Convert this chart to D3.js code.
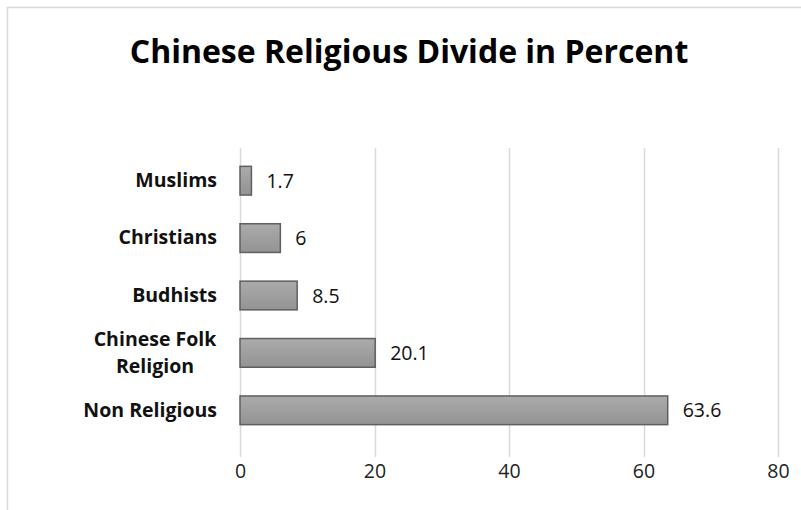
<!DOCTYPE html>
<html>
<head>
<meta charset="utf-8">
<script src="https://cdn.jsdelivr.net/npm/d3@7"></script>
<style>
  body { margin: 0; background: #fff; }
  svg { display: block; font-family: "Open Sans", sans-serif; }
</style>
</head>
<body>
<div id="chart"></div>
<script>
const categories = ['Non Religious', 'Chinese Folk Religion', 'Budhists', 'Christians', 'Muslims'];
const values = [63.6, 20.1, 8.5, 6, 1.7];
const xTicks = [0, 20, 40, 60, 80];
const title = 'Chinese Religious Divide in Percent';

const WIDTH = 801;
const HEIGHT = 510;
const FONT = '"Open Sans", sans-serif';
const LABEL_SIZE = 19.5;

function translate(x, y) {
  return `translate(${x}, ${y})`;
}

const data = categories.map((c, i) => ({name: c, value: values[i]}));

const svg = d3.select('#chart').append('svg')
  .attr('width', WIDTH)
  .attr('height', HEIGHT);

// chart frame, runs off the right and bottom edge
svg.append('rect')
  .attr('x', 7.5).attr('y', 7.5)
  .attr('width', 820).attr('height', 520)
  .attr('fill', '#fff')
  .attr('stroke', '#d9d9d9')
  .attr('stroke-width', 1.5);

const defs = svg.append('defs');
const grad = defs.append('linearGradient')
  .attr('id', 'barFill')
  .attr('x1', 0).attr('y1', 0).attr('x2', 0).attr('y2', 1);
grad.append('stop').attr('offset', '0%').attr('stop-color', '#ababab');
grad.append('stop').attr('offset', '100%').attr('stop-color', '#939393');

const x = d3.scaleLinear()
  .domain([0, 80])
  .range([240, 778]);

const y = d3.scaleBand()
  .domain(categories.slice().reverse())
  .range([152, 439])
  .paddingInner(0.5)
  .paddingOuter(0.25);

const gridTop = 148;
const gridBottom = 457;

// gridlines
svg.append('g')
  .selectAll('line')
  .data(xTicks)
  .join('line')
  .attr('x1', d => Math.round(x(d)) + 0.5)
  .attr('x2', d => Math.round(x(d)) + 0.5)
  .attr('y1', gridTop)
  .attr('y2', gridBottom)
  .attr('stroke', '#d9d9d9')
  .attr('stroke-width', 1.5);

// x axis labels
const xAxis = svg.append('g')
  .attr('transform', translate(0, gridBottom))
  .call(d3.axisBottom(x).tickValues(xTicks).tickSize(0).tickPadding(7));
xAxis.select('.domain').remove();
xAxis.selectAll('text')
  .attr('font-family', FONT)
  .attr('font-size', LABEL_SIZE)
  .attr('fill', '#222');

// bars
svg.append('g')
  .selectAll('rect')
  .data(data)
  .join('rect')
  .attr('x', x(0))
  .attr('y', d => y(d.name))
  .attr('width', d => x(d.value) - x(0))
  .attr('height', y.bandwidth())
  .attr('fill', 'url(#barFill)')
  .attr('stroke', '#5f5f5f')
  .attr('stroke-width', 1.5);

// value labels
svg.append('g')
  .selectAll('text')
  .data(data)
  .join('text')
  .attr('x', d => x(d.value) + 15)
  .attr('y', d => y(d.name) + y.bandwidth() / 2)
  .attr('dy', '0.36em')
  .attr('font-family', FONT)
  .attr('font-size', LABEL_SIZE)
  .attr('fill', '#111')
  .text(d => d.value);

// category labels (wrapped, centered lines, right-aligned block)
const yAxis = svg.append('g')
  .attr('transform', translate(217, 0))
  .call(d3.axisLeft(y).tickSize(0).tickPadding(0));
yAxis.select('.domain').remove();
yAxis.selectAll('text').each(function(d) {
  const t = d3.select(this);
  t.attr('font-family', FONT)
    .attr('font-size', LABEL_SIZE)
    .attr('font-weight', 'bold')
    .attr('fill', '#111');
  const words = d.split(' ');
  if (words.length > 2) {
    const lines = [words.slice(0, 2).join(' '), words.slice(2).join(' ')];
    t.text(null).attr('text-anchor', 'middle').attr('x', -62);
    lines.forEach((line, i) => {
      t.append('tspan')
        .attr('x', -62)
        .attr('dy', i === 0 ? '-0.35em' : '1.4em')
        .text(line);
    });
  }
});

// title
svg.append('text')
  .attr('x', 409)
  .attr('y', 63)
  .attr('text-anchor', 'middle')
  .attr('font-family', FONT)
  .attr('font-size', 32)
  .attr('font-weight', 'bold')
  .attr('fill', '#000')
  .text(title);
</script>
</body>
</html>
